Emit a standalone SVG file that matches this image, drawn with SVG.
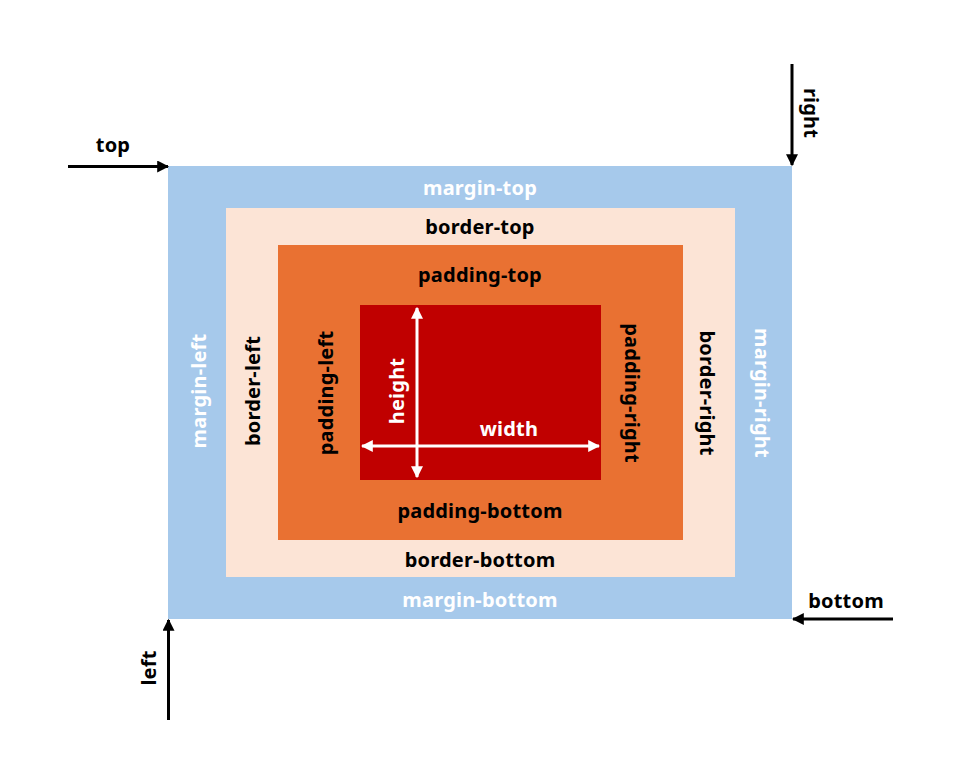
<svg xmlns="http://www.w3.org/2000/svg" width="958" height="782" viewBox="0 0 958 782">
<style>
text{font-family:"Noto Sans","Open Sans","Liberation Sans",sans-serif;font-weight:bold;font-size:20px;letter-spacing:0.2px;text-anchor:middle;dominant-baseline:central}
.w{fill:#ffffff}
.k{fill:#000000}
.bl{stroke:#000;stroke-width:3;fill:none}
.wl{stroke:#fff;stroke-width:3;fill:none}
</style>
<defs>
<marker id="ah" markerWidth="4" markerHeight="4" refX="3.6" refY="2" orient="auto" markerUnits="strokeWidth"><path d="M0,0 L4,2 L0,4 Z" fill="#000"/></marker>
<marker id="wh" markerWidth="4" markerHeight="4" refX="3.6" refY="2" orient="auto-start-reverse" markerUnits="strokeWidth"><path d="M0,0 L4,2 L0,4 Z" fill="#fff"/></marker>
</defs>
<rect width="958" height="782" fill="#fff"/>
<g id="margin">
<rect x="168" y="166" width="624" height="453" fill="#A6C9EB"/>
<text class="w" x="480" y="187">margin-top</text>
<text class="w" x="480" y="599">margin-bottom</text>
<text class="w" transform="translate(198,391) rotate(-90)">margin-left</text>
<text class="w" transform="translate(762,393) rotate(90)">margin-right</text>
</g>
<g id="border">
<rect x="226" y="208" width="509" height="369" fill="#FCE4D6"/>
<text class="k" x="480" y="226">border-top</text>
<text class="k" x="480" y="559">border-bottom</text>
<text class="k" transform="translate(252,391) rotate(-90)">border-left</text>
<text class="k" transform="translate(707,393) rotate(90)">border-right</text>
</g>
<g id="padding">
<rect x="278" y="245" width="405" height="295" fill="#E97132"/>
<text class="k" x="480" y="274">padding-top</text>
<text class="k" x="480" y="510">padding-bottom</text>
<text class="k" transform="translate(325,393) rotate(-90)">padding-left</text>
<text class="k" transform="translate(632,393) rotate(90)">padding-right</text>
</g>
<g id="content">
<rect x="360" y="305" width="241" height="175" fill="#C00000"/>
<text class="w" transform="translate(396,391) rotate(-90)">height</text>
<text class="w" x="509" y="428">width</text>
</g>
<g id="connectors">
<line class="wl" x1="417" y1="308" x2="417" y2="477" marker-start="url(#wh)" marker-end="url(#wh)"/>
<line class="wl" x1="362" y1="446" x2="599" y2="446" marker-start="url(#wh)" marker-end="url(#wh)"/>
<line class="bl" x1="68" y1="166.5" x2="168" y2="166.5" marker-end="url(#ah)"/>
<line class="bl" x1="792" y1="64" x2="792" y2="165" marker-end="url(#ah)"/>
<line class="bl" x1="168.5" y1="720" x2="168.5" y2="620" marker-end="url(#ah)"/>
<line class="bl" x1="893" y1="619" x2="793" y2="619" marker-end="url(#ah)"/>
</g>
<g id="labels">
<text class="k" x="113" y="144">top</text>
<text class="k" transform="translate(811,113) rotate(90)">right</text>
<text class="k" transform="translate(148,668) rotate(-90)">left</text>
<text class="k" x="846" y="600">bottom</text>
</g>
</svg>
